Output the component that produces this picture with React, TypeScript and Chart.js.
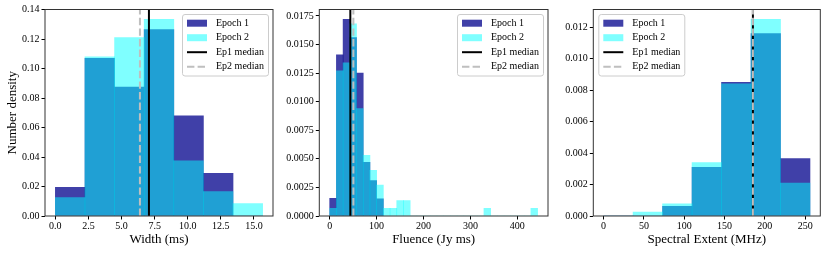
import React, { useEffect, useRef } from "react";
import { Chart, registerables } from "chart.js";

Chart.register(...registerables);

// ---------------- DATA ----------------
// Panel 1: Width (ms)
const widthEdges = [0, 2.237, 4.474, 6.711, 8.949, 11.186, 13.423, 15.66];
const widthEpoch1 = [0.0195, 0.107, 0.0875, 0.1265, 0.068, 0.029, 0];
const widthEpoch2 = [0.0125, 0.108, 0.121, 0.1334, 0.0374, 0.0165, 0.0084];
const widthMedians = [7.07, 6.39];
const widthXTicks = [0, 2.5, 5, 7.5, 10, 12.5, 15];
const widthYTicks = [0, 0.02, 0.04, 0.06, 0.08, 0.1, 0.12, 0.14];

// Panel 2: Fluence (Jy ms)
const fluenceEdges = [
  0, 14.3, 28.6, 42.9, 57.2, 71.5, 85.8, 100.1, 114.4, 128.7, 143, 157.3,
  171.6, 185.9, 200.2, 214.5, 228.8, 243.1, 257.4, 271.7, 286, 300.3, 314.6,
  328.9, 343.2, 357.5, 371.8, 386.1, 400.4, 414.7, 429, 443.3,
];
const fluenceEpoch1 = [0.00155, 0.0141, 0.0172, 0.0156, 0.0125, 0.0047, 0.0031, 0.0015];
const fluenceEpoch2 = [
  0.00067, 0.0127, 0.0134, 0.0168, 0.0094, 0.0053, 0.004, 0.0027, 0.00067,
  0.00067, 0.00134, 0.00134, 0, 0, 0, 0, 0, 0, 0, 0, 0, 0, 0, 0.00067, 0, 0,
  0, 0, 0, 0, 0.00067,
];
const fluenceMedians = [44, 50.5];
const fluenceXTicks = [0, 100, 200, 300, 400];
const fluenceYTicks = [0, 0.0025, 0.005, 0.0075, 0.01, 0.0125, 0.015, 0.0175];

// Panel 3: Spectral Extent (MHz)
const spectralEdges = [0, 36.57, 73.14, 109.71, 146.29, 182.86, 219.43, 256];
const spectralEpoch1 = [0, 0, 0.00062, 0.0031, 0.0085, 0.0116, 0.00365];
const spectralEpoch2 = [0, 0.00025, 0.00078, 0.0034, 0.0084, 0.0125, 0.0021];
const spectralMedians = [185.2, 185.2];
const spectralXTicks = [0, 50, 100, 150, 200, 250];
const spectralYTicks = [0, 0.002, 0.004, 0.006, 0.008, 0.01, 0.012];

const seriesLabels = ["Epoch 1", "Epoch 2", "Ep1 median", "Ep2 median"];

// ---------------- STYLE / LAYOUT ----------------
const FONT = "'Liberation Serif', 'Times New Roman', serif";
const H = 253;
const AREA_TOP = 9.5;
const AREA_BOTTOM = 216;
const COL_E1 = "rgba(0,0,139,0.75)";
const COL_E2 = "rgba(0,255,255,0.5)";
const COL_M1 = "#000000";
const COL_M2 = "#bfbfbf";

type PanelSpec = {
  canvasLeft: number;
  canvasWidth: number;
  areaLeft: number;
  areaRight: number;
  edges: number[];
  e1: number[];
  e2: number[];
  medians: number[];
  xTicks: number[];
  yTicks: number[];
  xDec: number;
  yDec: number;
  xLabel: string;
  yLabel?: string;
  legendSide: "left" | "right";
};

const panels: PanelSpec[] = [
  {
    canvasLeft: 0, canvasWidth: 277, areaLeft: 45, areaRight: 273,
    edges: widthEdges, e1: widthEpoch1, e2: widthEpoch2, medians: widthMedians,
    xTicks: widthXTicks, yTicks: widthYTicks, xDec: 1, yDec: 2,
    xLabel: "Width (ms)", yLabel: "Number density", legendSide: "right",
  },
  {
    canvasLeft: 277, canvasWidth: 275, areaLeft: 319.3, areaRight: 548,
    edges: fluenceEdges, e1: fluenceEpoch1, e2: fluenceEpoch2, medians: fluenceMedians,
    xTicks: fluenceXTicks, yTicks: fluenceYTicks, xDec: 0, yDec: 4,
    xLabel: "Fluence (Jy ms)", legendSide: "right",
  },
  {
    canvasLeft: 552, canvasWidth: 278, areaLeft: 593.3, areaRight: 820.3,
    edges: spectralEdges, e1: spectralEpoch1, e2: spectralEpoch2, medians: spectralMedians,
    xTicks: spectralXTicks, yTicks: spectralYTicks, xDec: 0, yDec: 3,
    xLabel: "Spectral Extent (MHz)", legendSide: "left",
  },
];

const spinePlugin = {
  id: "mplSpines",
  afterDatasetsDraw(chart: any) {
    const { ctx, chartArea: a } = chart;
    ctx.save();
    ctx.strokeStyle = "#333333";
    ctx.lineWidth = 1;
    ctx.strokeRect(a.left, a.top, a.right - a.left, a.bottom - a.top);
    ctx.restore();
  },
};

const legendPlugin = {
  id: "mplLegend",
  afterDraw(chart: any, _args: any, opts: any) {
    const { ctx, chartArea: a } = chart;
    const w = 86;
    const h = 61.5;
    const inset = 4.5;
    const x0 = opts.side === "right" ? a.right - inset - w : a.left + inset + 1;
    const y0 = a.top + 5;
    ctx.save();
    ctx.beginPath();
    if (ctx.roundRect) ctx.roundRect(x0, y0, w, h, 2.5);
    else ctx.rect(x0, y0, w, h);
    ctx.fillStyle = "rgba(255,255,255,0.8)";
    ctx.fill();
    ctx.strokeStyle = "#cccccc";
    ctx.lineWidth = 1;
    ctx.stroke();
    chart.data.datasets.forEach((ds: any, i: number) => {
      const cy = y0 + 8.7 + i * 14.5;
      const hx = x0 + 4.5;
      if (ds.type === "bar") {
        ctx.fillStyle = ds.backgroundColor;
        ctx.fillRect(hx, cy - 3.5, 20, 7);
      } else {
        ctx.strokeStyle = ds.borderColor;
        ctx.lineWidth = ds.borderWidth;
        ctx.setLineDash(ds.borderDash || []);
        ctx.beginPath();
        ctx.moveTo(hx, cy);
        ctx.lineTo(hx + 20, cy);
        ctx.stroke();
        ctx.setLineDash([]);
      }
      ctx.fillStyle = "#000";
      ctx.font = `10px ${FONT}`;
      ctx.textBaseline = "middle";
      ctx.textAlign = "left";
      ctx.fillText(ds.label, x0 + 33.5, cy);
    });
    ctx.restore();
  },
};

function toPoints(edges: number[], vals: number[]) {
  return vals.map((v, i) => ({ x: (edges[i] + edges[i + 1]) / 2, y: v }));
}

function HistPanel({ p }: { p: PanelSpec }) {
  const ref = useRef<HTMLCanvasElement>(null);
  useEffect(() => {
    const first = p.edges[0];
    const last = p.edges[p.edges.length - 1];
    const span = last - first;
    const xmin = first - 0.05 * span;
    const xmax = last + 0.05 * span;
    const ymax = 1.05 * Math.max(...p.e1, ...p.e2);
    const barCommon = {
      type: "bar" as const,
      borderWidth: 0,
      grouped: false,
      barPercentage: 1,
      categoryPercentage: 1,
    };
    const chart = new Chart(ref.current as HTMLCanvasElement, {
      type: "bar",
      data: {
        datasets: [
          { ...barCommon, label: seriesLabels[0], data: toPoints(p.edges, p.e1), backgroundColor: COL_E1, order: 3 },
          { ...barCommon, label: seriesLabels[1], data: toPoints(p.edges, p.e2), backgroundColor: COL_E2, order: 2 },
          {
            type: "line", label: seriesLabels[2],
            data: [{ x: p.medians[0], y: 0 }, { x: p.medians[0], y: ymax }],
            borderColor: COL_M1, borderWidth: 2, pointRadius: 0, fill: false, order: 1,
          },
          {
            type: "line", label: seriesLabels[3],
            data: [{ x: p.medians[1], y: 0 }, { x: p.medians[1], y: ymax }],
            borderColor: COL_M2, borderWidth: 2, borderDash: [7.4, 3.2], borderCapStyle: "butt",
            pointRadius: 0, fill: false, order: 0,
          },
        ] as any,
      },
      options: {
        animation: false,
        responsive: false,
        maintainAspectRatio: false,
        devicePixelRatio: 1,
        events: [],
        layout: {
          padding: {
            left: 0,
            top: AREA_TOP,
            bottom: 0,
            right: p.canvasWidth - (p.areaRight - p.canvasLeft),
          },
        },
        plugins: {
          legend: { display: false },
          tooltip: { enabled: false },
          mplLegend: { side: p.legendSide },
        } as any,
        scales: {
          x: {
            type: "linear",
            min: xmin,
            max: xmax,
            offset: false,
            grid: {
              display: true, drawOnChartArea: false, drawTicks: true,
              tickLength: 3.5, tickWidth: 1, tickColor: "#000", offset: false,
            },
            border: { display: false },
            ticks: {
              color: "#000", font: { family: FONT, size: 10 }, padding: 1,
              maxRotation: 0, minRotation: 0, autoSkip: false,
              callback: (v: any) => Number(v).toFixed(p.xDec),
            },
            afterBuildTicks: (s: any) => {
              s.ticks = p.xTicks.map((v) => ({ value: v }));
            },
            afterFit: (s: any) => {
              s.height = H - AREA_BOTTOM;
            },
            title: {
              display: true, text: p.xLabel, color: "#000",
              font: { family: FONT, size: 13 }, padding: { top: 0, bottom: 6 },
            },
          },
          y: {
            type: "linear",
            min: 0,
            max: ymax,
            grid: {
              display: true, drawOnChartArea: false, drawTicks: true,
              tickLength: 3.5, tickWidth: 1, tickColor: "#000",
            },
            border: { display: false },
            ticks: {
              color: "#000", font: { family: FONT, size: 10 }, padding: 2,
              autoSkip: false,
              callback: (v: any) => Number(v).toFixed(p.yDec),
            },
            afterBuildTicks: (s: any) => {
              s.ticks = p.yTicks.map((v) => ({ value: v }));
            },
            afterFit: (s: any) => {
              s.width = p.areaLeft - p.canvasLeft;
            },
            title: p.yLabel
              ? {
                  display: true, text: p.yLabel, color: "#000",
                  font: { family: FONT, size: 13 }, padding: { top: 4.5, bottom: 0 },
                }
              : { display: false },
          },
        } as any,
      },
      plugins: [spinePlugin, legendPlugin],
    });
    return () => chart.destroy();
  }, [p]);
  return (
    <canvas
      ref={ref}
      width={p.canvasWidth}
      height={H}
      style={{
        position: "absolute",
        left: p.canvasLeft,
        top: 0,
        width: p.canvasWidth,
        height: H,
      }}
    />
  );
}

export default function App() {
  return (
    <div
      style={{
        position: "absolute",
        left: 0,
        top: 0,
        width: 830,
        height: H,
        background: "#ffffff",
        overflow: "hidden",
      }}
    >
      {panels.map((p, i) => (
        <HistPanel key={i} p={p} />
      ))}
    </div>
  );
}
